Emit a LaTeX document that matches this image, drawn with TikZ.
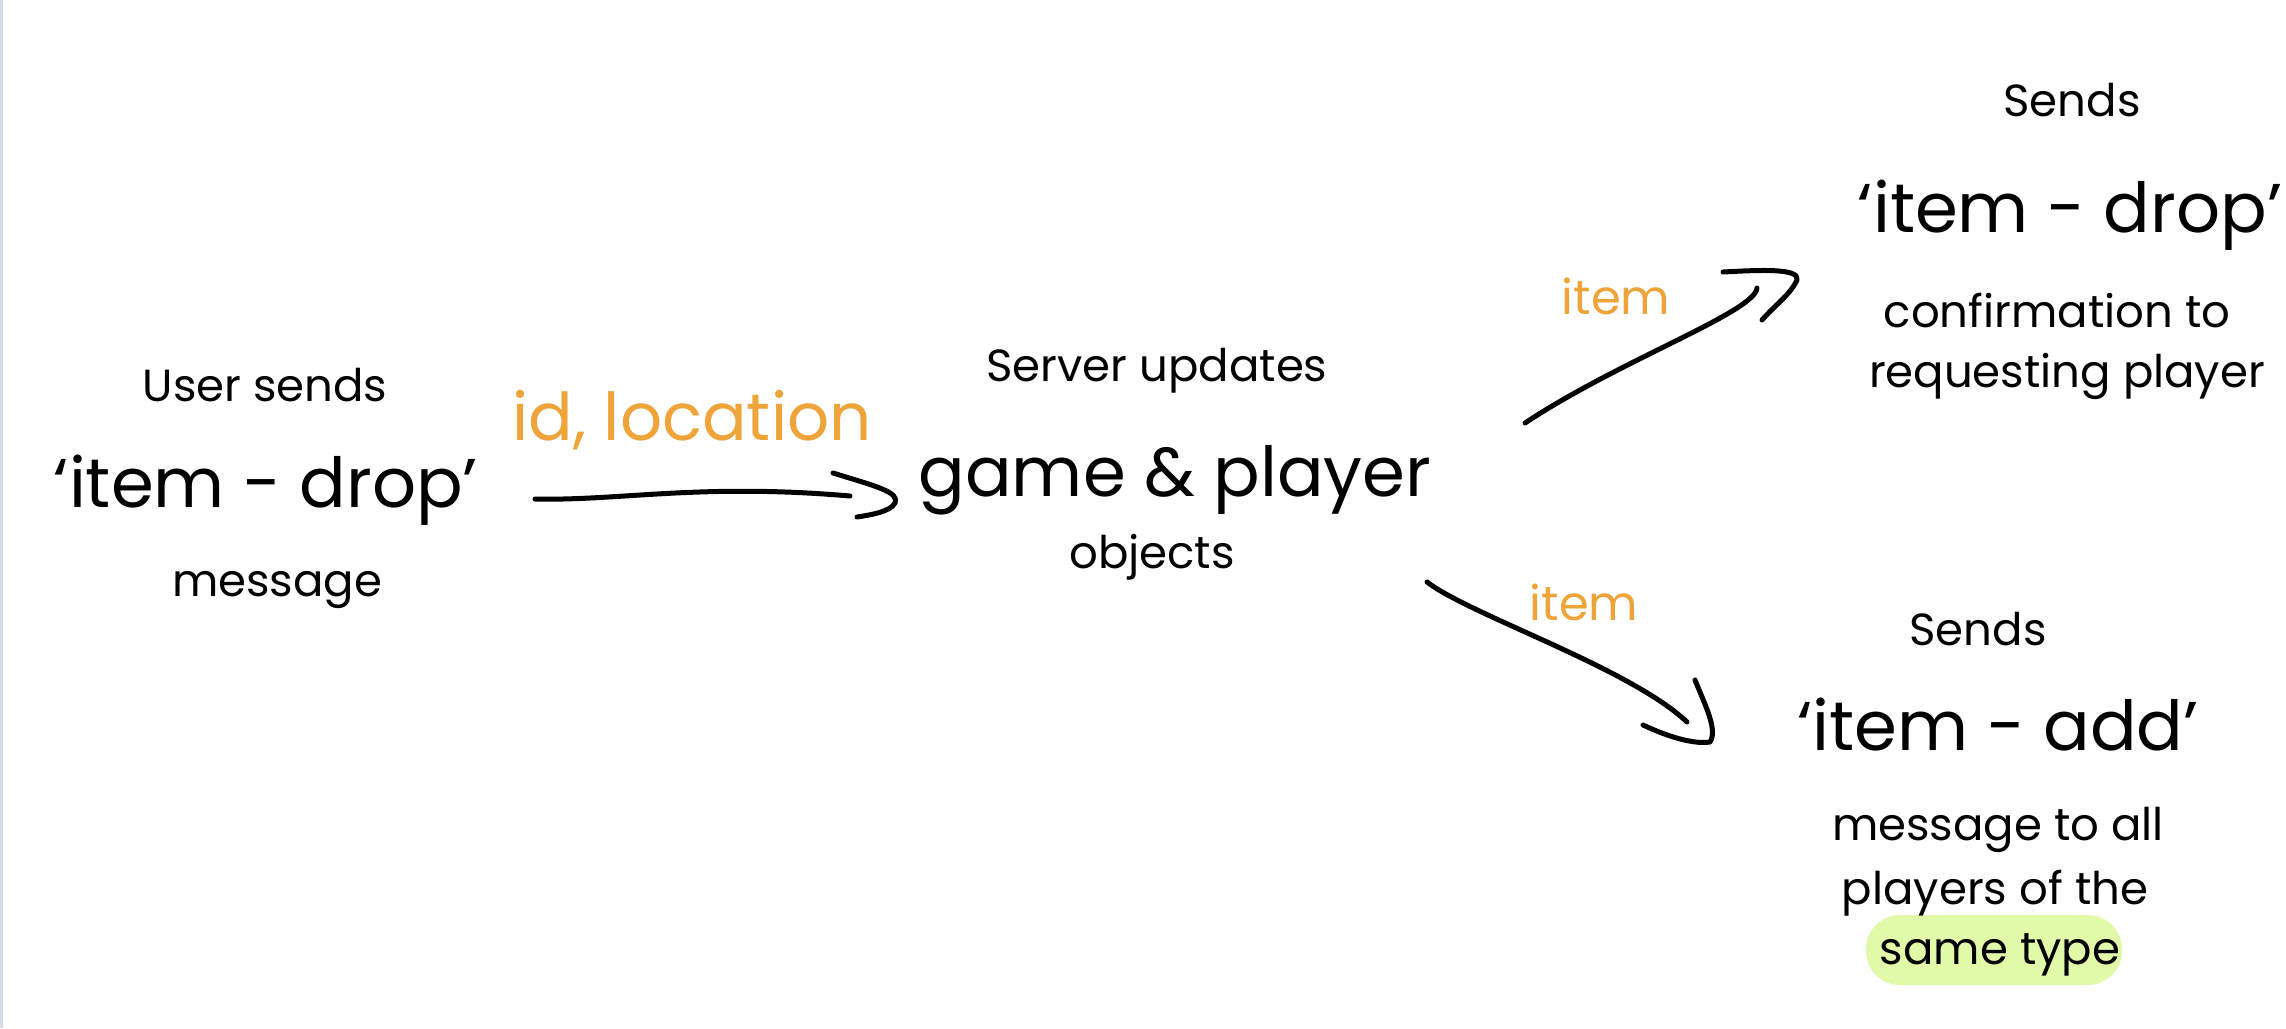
\documentclass[tikz,border=0pt]{standalone}
\usepackage{fontspec}
\setmainfont{Poppins}
\definecolor{inkorange}{HTML}{EFA43A}
\definecolor{hilite}{HTML}{E1FAA9}
\definecolor{edge}{HTML}{D8DCE6}
\begin{document}
\begin{tikzpicture}[x=1pt,y=-1pt,
  small/.style={inner sep=0pt,font=\fontsize{45}{52}\selectfont},
  large/.style={inner sep=0pt,font=\fontsize{69}{80}\selectfont},
  lbl/.style={inner sep=0pt,text=inkorange,font=\fontsize{48}{56}\selectfont},
  lblwide/.style={inner sep=0pt,text=inkorange,font=\fontsize{66}{76}\selectfont},
  stroke/.style={line width=5pt,line cap=round,line join=round,black}]
\useasboundingbox (0,0) rectangle (2286,1028);
\fill[white] (0,0) rectangle (2286,1028);
\fill[edge] (0,0) rectangle (2.5,1028);
% highlight
\fill[hilite,rounded corners=34pt] (1866,915) rectangle (2122,985);
% left block
\node[small] (u1) at (265,385) {User sends};
\node[large] (u2) at (266,490) {‘item - drop’};
\node[small] (u3) at (277,590) {message};
% middle block
\node[small] (s1) at (1157,371) {Server updates};
\node[large] (s2) at (1175,480) {game \& player};
\node[small] (s3) at (1152,557) {objects};
% top right
\node[small] (r1) at (2072,100) {Sends};
\node[large] (r2) at (2070,215) {‘item - drop’};
\node[small] (r3) at (2057,311) {confirmation to};
\node[small] (r4) at (2067,376) {requesting player};
% bottom right
\node[small] (b1) at (1978,629) {Sends};
\node[large] (b2) at (1998,725) {‘item - add’};
\node[small] (b3) at (1998,830) {message to all};
\node[small] (b4) at (1995,893) {players of the};
\node[small] (b5) at (2000,955) {same type};
% labels
\node[lblwide] (l1) at (692,420) {id, location};
\node[lbl] (l2) at (1616,296) {item};
\node[lbl] (l3) at (1584,602) {item};
% connector end points
\coordinate (a1s) at (535,499);
\coordinate (a1e) at (850,496);
\coordinate (a2s) at (1525,423);
\coordinate (a2e) at (1757,288);
\coordinate (a3s) at (1427,582);
\coordinate (a3e) at (1687,722);
% arrow 1
\draw[stroke] (a1s) .. controls (620,501) and (700,483) .. (a1e);
\draw[stroke] (833,473) .. controls (875,486) and (900,492) .. (895,503)
                        .. controls (890,512) and (870,515) .. (857,517);
% arrow 2
\draw[stroke] (a2s) .. controls (1620,360) and (1755,312) .. (a2e);
\draw[stroke] (1723,272) .. controls (1760,270) and (1800,268) .. (1797,280)
                         .. controls (1790,295) and (1775,305) .. (1762,320);
% arrow 3
\draw[stroke] (a3s) .. controls (1470,615) and (1630,668) .. (a3e);
\draw[stroke] (1695,680) .. controls (1705,705) and (1718,730) .. (1710,742)
                         .. controls (1690,745) and (1660,733) .. (1643,725);
\end{tikzpicture}
\end{document}
